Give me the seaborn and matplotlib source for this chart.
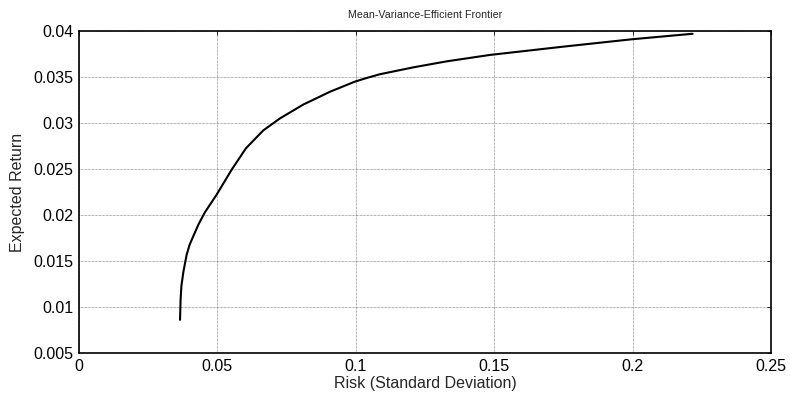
import pandas as pd
import matplotlib
matplotlib.use("Agg")
import matplotlib.pyplot as plt
import seaborn as sns

# Frontier points
risk = [0.0365, 0.0367, 0.0370, 0.0377, 0.0389, 0.0400, 0.0413, 0.0432, 0.0455,
        0.0497, 0.0551, 0.0603, 0.0666, 0.0726, 0.0810, 0.0907, 0.0997, 0.1040,
        0.1087, 0.1208, 0.1328, 0.1485, 0.1750, 0.1997, 0.2217]
ret = [0.0086, 0.0108, 0.0123, 0.0138, 0.0157, 0.0168, 0.0177, 0.0190, 0.0203,
       0.0222, 0.0249, 0.02725, 0.0292, 0.0305, 0.0320, 0.0334, 0.0345, 0.0349,
       0.0353, 0.03605, 0.0367, 0.0374, 0.0383, 0.0391, 0.0397]

x_ticks = [0, 0.05, 0.1, 0.15, 0.2, 0.25]
x_labels = ["0", "0.05", "0.1", "0.15", "0.2", "0.25"]
y_ticks = [0.005, 0.01, 0.015, 0.02, 0.025, 0.03, 0.035, 0.04]
y_labels = ["0.005", "0.01", "0.015", "0.02", "0.025", "0.03", "0.035", "0.04"]

df = pd.DataFrame({"Risk": risk, "Return": ret})

sns.set_style("white")
plt.rcParams['font.family'] = ['Liberation Sans', 'DejaVu Sans']

fig = plt.figure(figsize=(7.9, 4.03), dpi=100)
ax = fig.add_axes([79 / 790, 1 - 353 / 403, (771 - 79) / 790, (353 - 31) / 403])

sns.lineplot(data=df, x="Risk", y="Return", sort=False, color="black",
             linewidth=1.5, ax=ax)

ax.set_xlim(0, 0.25)
ax.set_ylim(0.005, 0.04)
ax.set_xticks(x_ticks)
ax.set_xticklabels(x_labels)
ax.set_yticks(y_ticks)
ax.set_yticklabels(y_labels)
ax.tick_params(direction="in", length=3, width=0.6, top=True, right=True,
               labelsize=11.5, pad=4, colors="black")
ax.grid(True, color="#666666", linestyle=(0, (1, 1)), linewidth=0.5)
for s in ax.spines.values():
    s.set_color("black")
    s.set_linewidth(1.2)

ax.set_xlabel("Risk (Standard Deviation)", fontsize=11.5, labelpad=2)
ax.set_ylabel("Expected Return", fontsize=11.5, labelpad=6)
ax.set_title("Mean-Variance-Efficient Frontier", fontsize=7.7, pad=9)

fig.savefig("out.png", dpi=100)
